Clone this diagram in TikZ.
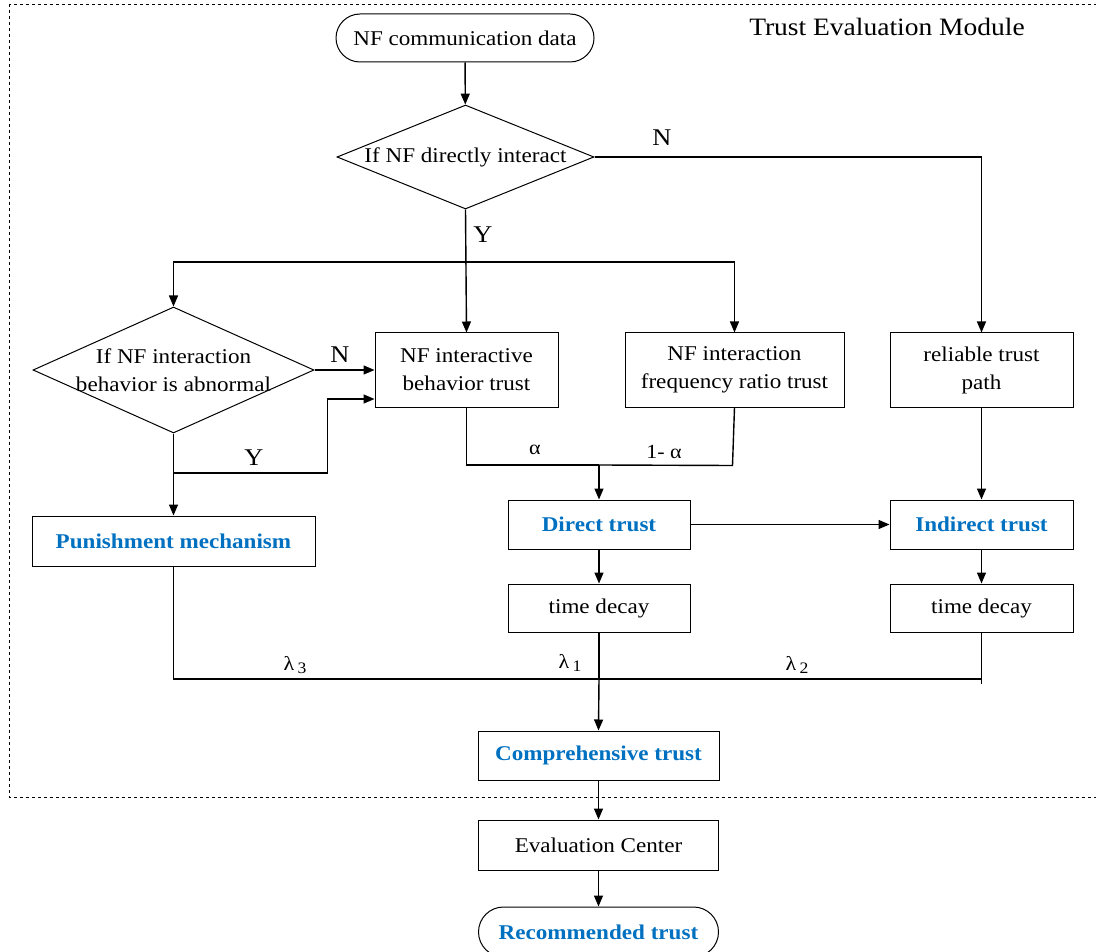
\documentclass[tikz,border=0pt]{standalone}
\usepackage{fontspec}
\setmainfont{Liberation Serif}[FakeStretch=1.1]
\usetikzlibrary{shapes.geometric,arrows.meta,calc}
\definecolor{tblue}{RGB}{0,112,192}
\tikzset{
  base/.style={draw, line width=1pt, inner sep=2pt, align=center, font=\fontsize{21}{28}\selectfont},
  box/.style={base, rectangle},
  hbox/.style={box, text=tblue, font=\fontsize{21}{28}\selectfont\bfseries},
  term/.style={base, rectangle, rounded corners=24pt},
  dec/.style={draw, line width=1pt, diamond, inner sep=0pt, aspect=2.5},
  dtext/.style={align=center, inner sep=0pt, font=\fontsize{21}{28}\selectfont},
  ln/.style={line width=1.4pt},
  arr/.style={ln, -{Triangle[length=11pt,width=9pt]}},
  lab/.style={font=\fontsize{24}{24}\selectfont, inner sep=0pt},
  glab/.style={font=\fontsize{20}{20}\selectfont, inner sep=0pt},
}
\begin{document}
\begin{tikzpicture}[x=1pt,y=-1pt]
\useasboundingbox (0,0) rectangle (1096,952);
\draw[dashed, line width=0.7pt] (9,4) rectangle (1110,797);
\node[font=\fontsize{25}{25}\selectfont, inner sep=0pt] (title) at (887,27) {Trust Evaluation Module};

\node[term, minimum width=258, minimum height=48] (start) at (465,38) {NF communication data};
\node[dec, minimum width=257, minimum height=104] (d1) at (465.5,157) {};
\node[dtext] (d1t) at (d1.center) {If NF directly interact};
\node[dec, minimum width=281, minimum height=126] (d2) at (173.5,370) {};
\node[dtext] (d2t) at (d2.center) {If NF interaction\\behavior is abnormal};
\node[box, minimum width=183, minimum height=74] (ib) at (466.5,370) {NF interactive\\behavior trust};
\node[box, minimum width=219, minimum height=74] (fr) at (734.5,370) {NF interaction\\frequency ratio trust};
\node[box, minimum width=183, minimum height=74] (rp) at (981.5,370) {reliable trust\\path};
\node[hbox, minimum width=283, minimum height=50] (pm) at (173.5,541) {Punishment mechanism};
\node[hbox, minimum width=182, minimum height=49] (dt) at (599,524.5) {Direct trust};
\node[hbox, minimum width=183, minimum height=49] (it) at (981.5,524.5) {Indirect trust};
\node[box, minimum width=182, minimum height=48] (td1) at (599,608) {time decay};
\node[box, minimum width=183, minimum height=48] (td2) at (981.5,608) {time decay};
\node[hbox, minimum width=241, minimum height=49] (ct) at (598.5,755.5) {Comprehensive trust};
\node[box, minimum width=240, minimum height=50] (ec) at (598.5,845) {Evaluation Center};
\node[term, text=tblue, font=\fontsize{21}{28}\selectfont\bfseries, minimum width=240, minimum height=50, rounded corners=25pt] (rt) at (598.5,932) {Recommended trust};

% connectors
\draw[arr] (start) -- (d1);
\draw[arr] (d1.east) -| (rp.north);
\node[lab] (nlab1) at (662,138) {N};
\draw[arr] (d1.south) -- (ib.north);
\node[lab] (ylab1) at (483,235) {Y};
\coordinate (yb) at (465.5,262);
\draw[arr] (yb) -| (d2.north);
\draw[arr] (yb) -| (fr.north);

\draw[arr] (d2.east) -- (ib.west |- d2.east);
\node[lab] (nlab2) at (340,355) {N};
\coordinate (ysp) at (173.5,473);
\draw[ln] (d2.south) -- (ysp);
\draw[arr] (ysp) -| ($(ib.west)+(-47,29)$) -- ($(ib.west)+(0,29)$);
\node[lab] (ylab2) at (254,458) {Y};
\draw[arr] (ysp) -- (pm.north);

\coordinate (mj) at (599,465);
\draw[ln] (ib.south) |- (mj);
\draw[ln] (fr.south) -- ($(fr.south)+(-2,58)$) -- (mj);
\draw[arr] (mj) -- (dt.north);
\node[glab] (al1) at (535,450) {α};
\node[glab] (al2) at (664,452) {1- α};

\draw[arr] (rp.south) -- (it.north);
\draw[arr] (dt.east) -- (it.west);
\draw[arr] (dt.south) -- (td1.north);
\draw[arr] (it.south) -- (td2.north);

\coordinate (lj) at (599,679);
\draw[ln] (pm.south) |- (lj);
\draw[ln] (td2.south) -- ($(td2.south)+(0,51)$);
\draw[ln] (td2.south |- lj) -- (lj);
\draw[ln] (td1.south) -- (lj);
\draw[arr] (lj) -- (ct.north);
\node[glab] (l3) at (295,665) {λ\,\raisebox{-0.35ex}{\fontsize{16}{16}\selectfont 3}};
\node[glab] (l1) at (570,663) {λ\,\raisebox{-0.35ex}{\fontsize{16}{16}\selectfont 1}};
\node[glab] (l2) at (797,665) {λ\,\raisebox{-0.35ex}{\fontsize{16}{16}\selectfont 2}};

\draw[arr] (ct.south) -- (ec.north);
\draw[arr] (ec.south) -- (rt.north);
\end{tikzpicture}
\end{document}
